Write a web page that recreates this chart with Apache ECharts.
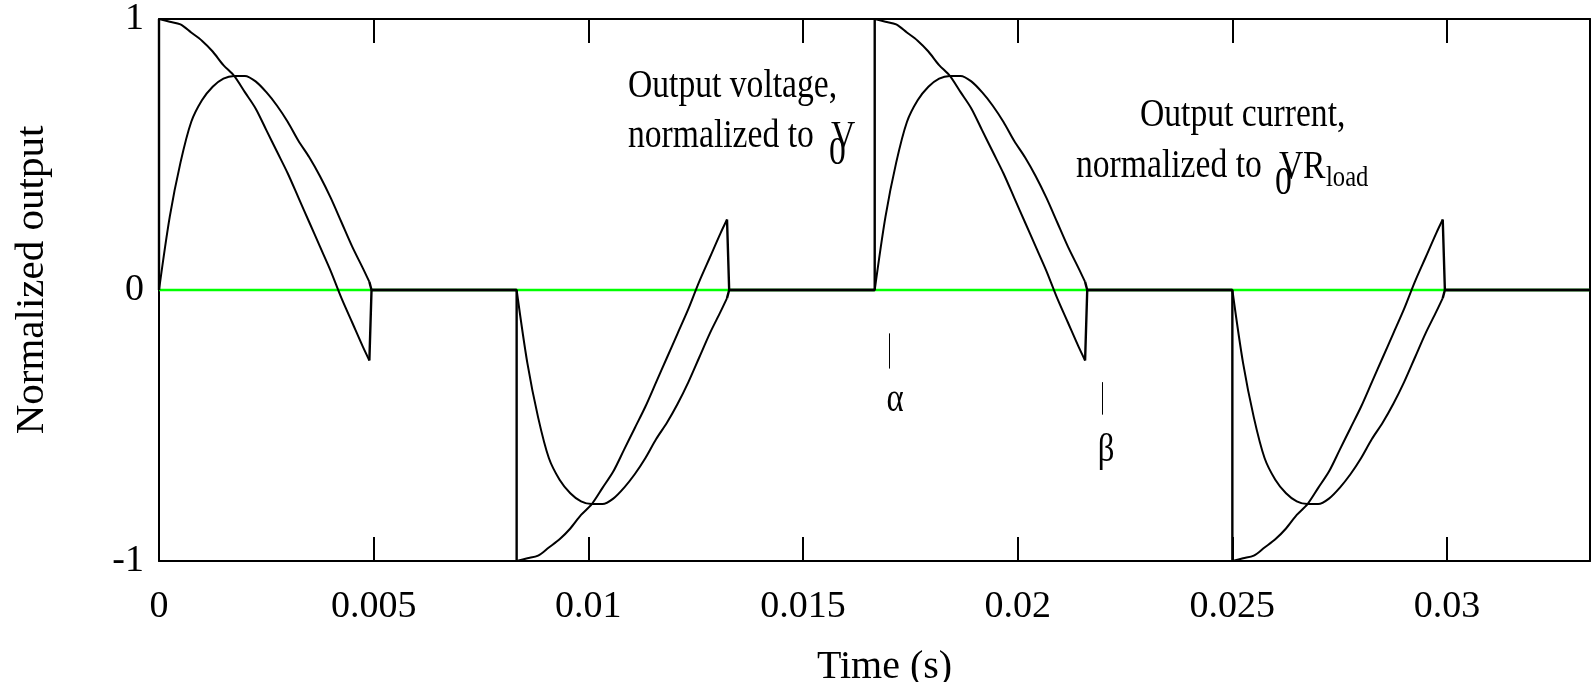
<!DOCTYPE html>
<html>
<head>
    <meta charset="utf-8">
    <script src="https://cdn.jsdelivr.net/npm/echarts@6/dist/echarts.min.js"></script>
    <style>
    html, body { margin: 0; padding: 0; background: #fff; }
    #main { width: 1591px; height: 682px; }
    </style>
    <title>Normalized output</title>
</head>
<body>
    <div id="main"></div>
    <script type="text/javascript">

        // each conduction pulse: when it fires and its polarity
        var firingTimes = [0, 0.00833, 0.01667, 0.025];
        var pulseSign = [1, -1, 1, -1];

        // one pulse, time counted from the firing instant
        var pulseT = [0, 0.00025, 0.0005, 0.00075, 0.001, 0.00125, 0.0015, 0.00175, 0.002, 0.00225,
                      0.0025, 0.00275, 0.003, 0.00325, 0.0035, 0.00375, 0.004, 0.00425, 0.0045, 0.00475, 0.0049];
        var pulseV = [1.00, 0.99, 0.98, 0.95, 0.92, 0.88, 0.83, 0.79, 0.73, 0.67,
                      0.59, 0.51, 0.43, 0.34, 0.25, 0.16, 0.07, -0.03, -0.12, -0.21, -0.26];
        var pulseI = [0.00, 0.27, 0.47, 0.62, 0.70, 0.75, 0.78, 0.79, 0.79, 0.77,
                      0.73, 0.68, 0.62, 0.55, 0.49, 0.42, 0.34, 0.25, 0.16, 0.08, 0.03];
        var offTime = 0.00495;   // both snap back to zero here
        var tEnd = 0.03333;

        var xTicks = [0, 0.005, 0.01, 0.015, 0.02, 0.025, 0.03];
        var xTickLabels = ['0', '0.005', '0.01', '0.015', '0.02', '0.025', '0.03'];
        var yTicks = [-1, 0, 1];
        var yTickLabels = ['-1', '0', '1'];

        // alpha / beta marker strokes (time, y from, y to)
        var alphaMark = [0.0170, -0.16, -0.29];
        var betaMark = [0.02197, -0.34, -0.46];

        var GAP = ['-', '-'];

        // smooth part: the pulses themselves, broken between pulses
        function buildPulses(vals) {
            var pts = [];
            firingTimes.forEach(function (t0, k) {
                pulseT.forEach(function (dt, i) {
                    pts.push([t0 + dt, pulseSign[k] * vals[i]]);
                });
                pts.push(GAP);
            });
            return pts;
        }

        // straight part: the jumps at firing / extinction and the zero stretches
        function buildJumps(vals) {
            var pts = [];
            var last = vals.length - 1;
            firingTimes.forEach(function (t0, k) {
                var s = pulseSign[k];
                pts.push([t0, 0], [t0, s * vals[0]], GAP);
                pts.push([t0 + pulseT[last], s * vals[last]], [t0 + offTime, 0]);
            });
            pts.push([tEnd, 0]);
            return pts;
        }

        function lookup(ticks, labels) {
            return function (v) {
                for (var i = 0; i < ticks.length; i++) {
                    if (Math.abs(v - ticks[i]) < 1e-9) return labels[i];
                }
                return '';
            };
        }

        var serif = '"Liberation Serif", "Times New Roman", serif';
        var black = '#000';

        function txt(s, x, y, size, align) {
            return {
                type: 'text', x: x, y: y, scaleX: 0.82, z: 10,
                style: {
                    text: s, fontSize: size, fontFamily: serif, fill: black,
                    align: align || 'left', verticalAlign: 'middle'
                }
            };
        }

        function trace(name, data, smooth, width) {
            return {
                name: name,
                type: 'line',
                symbol: 'none',
                smooth: smooth,
                connectNulls: false,
                z: 3,
                data: data,
                lineStyle: { color: black, width: width }
            };
        }

        var frameLine = { onZero: false, lineStyle: { color: black, width: 2 } };

        var myChart = echarts.init(document.getElementById('main'));

        var currentJumps = trace('Output current', buildJumps(pulseI), false, 2.4);
        currentJumps.markLine = {
            silent: true,
            symbol: ['none', 'none'],
            label: { show: false },
            lineStyle: { color: black, width: 1, type: 'solid' },
            data: [
                [{ coord: [alphaMark[0], alphaMark[1]] }, { coord: [alphaMark[0], alphaMark[2]] }],
                [{ coord: [betaMark[0], betaMark[1]] }, { coord: [betaMark[0], betaMark[2]] }]
            ]
        };

        var option = {
            animation: false,
            backgroundColor: '#fff',
            grid: { left: 159, right: 1, top: 19, bottom: 121, containLabel: false, outerBoundsMode: 'none' },
            xAxis: [{
                type: 'value', min: 0, max: tEnd, interval: 0.005,
                position: 'bottom',
                name: 'Time (s)', nameLocation: 'middle', nameGap: 86,
                nameTextStyle: { fontSize: 40, fontFamily: serif, color: black, padding: [0, 0, 0, 20] },
                axisLine: frameLine,
                axisTick: { inside: true, length: 24, lineStyle: { color: black, width: 2 } },
                axisLabel: { fontSize: 38, fontFamily: serif, color: black, margin: 27,
                             formatter: lookup(xTicks, xTickLabels) },
                splitLine: { show: false }
            }, {
                type: 'value', min: 0, max: tEnd, interval: 0.005,
                position: 'top',
                axisLine: frameLine,
                axisTick: { inside: true, length: 24, lineStyle: { color: black, width: 2 } },
                axisLabel: { show: false },
                splitLine: { show: false }
            }],
            yAxis: [{
                type: 'value', min: -1, max: 1, interval: 1,
                position: 'left',
                name: 'Normalized output', nameLocation: 'middle', nameGap: 106,
                nameTextStyle: { fontSize: 41, fontFamily: serif, color: black, padding: [0, 0, 0, 20] },
                axisLine: frameLine,
                axisTick: { show: false },
                axisLabel: { fontSize: 38, fontFamily: serif, color: black, margin: 15,
                             formatter: lookup(yTicks, yTickLabels) },
                splitLine: { show: false }
            }, {
                type: 'value', min: -1, max: 1, interval: 1,
                position: 'right',
                axisLine: frameLine,
                axisTick: { show: false },
                axisLabel: { show: false },
                splitLine: { show: false }
            }],
            series: [{
                name: 'zero',
                type: 'line',
                silent: true,
                symbol: 'none',
                z: 1,
                data: [[0, 0], [tEnd, 0]],
                lineStyle: { color: '#00ff00', width: 2.4 }
            },
                trace('Output voltage', buildPulses(pulseV), 0.3, 2),
                trace('Output voltage', buildJumps(pulseV), false, 2.4),
                trace('Output current', buildPulses(pulseI), 0.3, 2),
                currentJumps
            ],
            graphic: [
                txt('Output voltage,', 628, 86, 41),
                txt('normalized to', 628, 136, 41),
                txt('0', 829, 153, 41),
                txt('V', 831, 137, 41),
                txt('Output current,', 1140, 115, 41),
                txt('normalized to', 1076, 166, 41),
                txt('0', 1275, 183, 41),
                txt('V', 1279, 167, 41),
                txt('R', 1303, 167, 41),
                txt('load', 1326, 178, 30),
                txt('\u03b1', 895, 400, 40, 'center'),
                txt('\u03b2', 1106, 450, 40, 'center')
            ]
        };
        myChart.setOption(option);

    </script>
</body>
</html>
